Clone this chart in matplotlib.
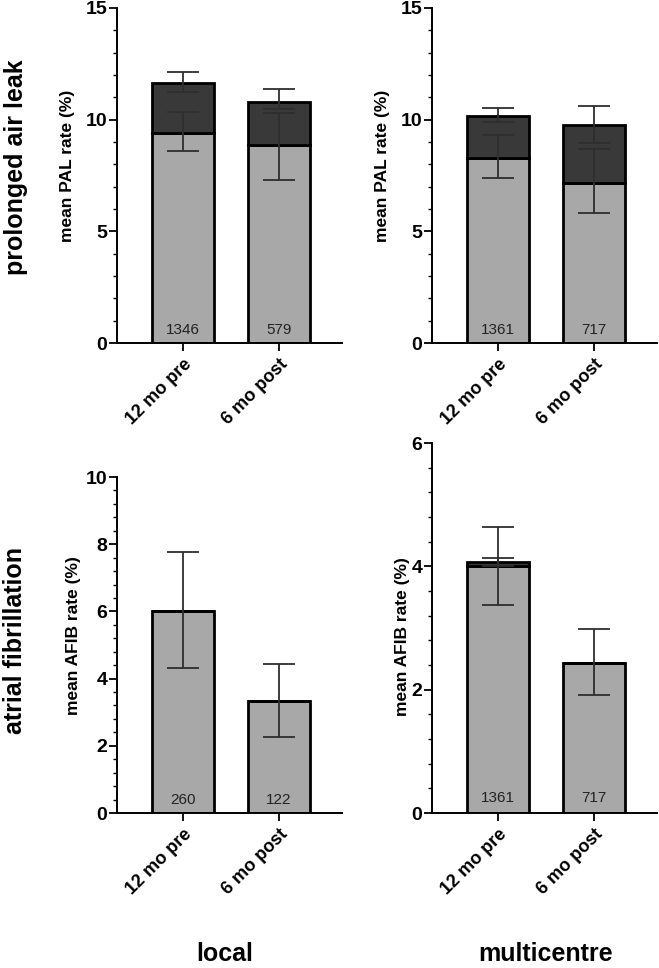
import matplotlib
matplotlib.use("Agg")
import matplotlib.pyplot as plt
from matplotlib.ticker import MultipleLocator, AutoMinorLocator
import matplotlib.transforms as mtransforms

plt.rcParams['font.family'] = ['Liberation Sans', 'DejaVu Sans']

categories = ["12 mo pre", "6 mo post"]

# PAL local
pal_local_lower = [9.40, 8.85]
pal_local_total = [11.64, 10.77]
pal_local_lower_err_lo = [8.58, 7.30]
pal_local_lower_err_hi = [10.33, 10.30]
pal_local_upper_err_lo = [11.22, 10.50]
pal_local_upper_err_hi = [12.12, 11.36]
pal_local_n = [1346, 579]

# PAL multicentre
pal_multi_lower = [8.28, 7.16]
pal_multi_total = [10.18, 9.74]
pal_multi_lower_err_lo = [7.37, 5.82]
pal_multi_lower_err_hi = [9.30, 8.67]
pal_multi_upper_err_lo = [9.88, 8.94]
pal_multi_upper_err_hi = [10.52, 10.63]
pal_multi_n = [1361, 717]

# AFIB local
afib_local_lower = [6.01, 3.32]
afib_local_total = [6.01, 3.32]
afib_local_lower_err_lo = [4.32, 2.26]
afib_local_lower_err_hi = [7.77, 4.42]
afib_local_n = [260, 122]

# AFIB multicentre
afib_multi_lower = [4.01, 2.44]
afib_multi_total = [4.07, 2.44]
afib_multi_lower_err_lo = [3.38, 1.92]
afib_multi_lower_err_hi = [4.64, 2.98]
afib_multi_upper_err_lo = [4.00, None]
afib_multi_upper_err_hi = [4.14, None]
afib_multi_n = [1361, 717]

row_labels = ["prolonged air leak", "atrial fibrillation"]
col_labels = ["local", "multicentre"]

LIGHT = "#a8a8a8"
DARK = "#393939"

fig = plt.figure(figsize=(6.59, 9.68), dpi=100)
W, H = 659, 968

def add_ax(left_px, top_px, right_px, bottom_px):
    return fig.add_axes([left_px / W, 1 - bottom_px / H,
                         (right_px - left_px) / W, (bottom_px - top_px) / H])

ax_tl = add_ax(117, 8, 342, 343)
ax_tr = add_ax(432, 8, 657, 343)
ax_bl = add_ax(117, 477, 342, 813)
ax_br = add_ax(432, 443, 657, 813)

x = [0, 1]
bw = 0.646

def draw_err(ax, xs, lo, hi):
    for xi, l, h in zip(xs, lo, hi):
        if l is None:
            continue
        mid = (l + h) / 2
        ax.errorbar([xi], [mid], yerr=[[mid - l], [h - mid]], fmt='none',
                    ecolor='#2e2e2e', elinewidth=1.3, capsize=11.5,
                    capthick=1.3, zorder=5)

def panel(ax, lower, total, n, ylim, major, ylabel, lab_xy,
          lerr_lo, lerr_hi, uerr_lo=None, uerr_hi=None):
    upper = [t - l for t, l in zip(total, lower)]
    ax.bar(x, lower, width=bw, color=LIGHT, edgecolor='black',
           linewidth=2.0, zorder=2)
    ax.bar(x, upper, bottom=lower, width=bw, color=DARK, edgecolor='black',
           linewidth=2.0, zorder=2)
    draw_err(ax, x, lerr_lo, lerr_hi)
    if uerr_lo is not None:
        draw_err(ax, x, uerr_lo, uerr_hi)
    trans = mtransforms.blended_transform_factory(ax.transData, ax.transAxes)
    for xi, ni in zip(x, n):
        ax.text(xi, 0.04, str(ni), transform=trans, ha='center', va='center',
                fontsize=11, color='#222222', zorder=6)
    ax.set_xlim(-0.6875, 1.656)
    ax.set_ylim(*ylim)
    ax.yaxis.set_major_locator(MultipleLocator(major))
    ax.yaxis.set_minor_locator(AutoMinorLocator(5))
    ax.set_xticks(x)
    ax.set_xticklabels(categories, rotation=45, ha='right',
                       rotation_mode='anchor', fontsize=13, fontweight='bold')
    for lab in ax.get_yticklabels():
        lab.set_fontweight('bold')
        lab.set_fontsize(14)
    ax.tick_params(axis='y', which='major', length=6, width=1.3, pad=1)
    ax.tick_params(axis='y', which='minor', length=3, width=1.0)
    ax.tick_params(axis='x', which='major', length=6, width=1.3, pad=3)
    for s in ['top', 'right']:
        ax.spines[s].set_visible(False)
    for s in ['left', 'bottom']:
        ax.spines[s].set_linewidth(1.4)
    ax.set_ylabel(ylabel, fontsize=12.5, fontweight='bold')
    ax.yaxis.set_label_coords(*lab_xy)

panel(ax_tl, pal_local_lower, pal_local_total, pal_local_n, (0, 15), 5,
      "mean PAL rate (%)", (-0.187, 0.528),
      pal_local_lower_err_lo, pal_local_lower_err_hi,
      pal_local_upper_err_lo, pal_local_upper_err_hi)
panel(ax_tr, pal_multi_lower, pal_multi_total, pal_multi_n, (0, 15), 5,
      "mean PAL rate (%)", (-0.187, 0.528),
      pal_multi_lower_err_lo, pal_multi_lower_err_hi,
      pal_multi_upper_err_lo, pal_multi_upper_err_hi)
panel(ax_bl, afib_local_lower, afib_local_total, afib_local_n, (0, 10), 2,
      "mean AFIB rate (%)", (-0.16, 0.527),
      afib_local_lower_err_lo, afib_local_lower_err_hi)
panel(ax_br, afib_multi_lower, afib_multi_total, afib_multi_n, (0, 6), 2,
      "mean AFIB rate (%)", (-0.10, 0.478),
      afib_multi_lower_err_lo, afib_multi_lower_err_hi,
      afib_multi_upper_err_lo, afib_multi_upper_err_hi)

fig.text(16 / W, 1 - 167 / H, row_labels[0], rotation=90, ha='center',
         va='center', fontsize=18, fontweight='bold')
fig.text(15 / W, 1 - 640 / H, row_labels[1], rotation=90, ha='center',
         va='center', fontsize=18, fontweight='bold')
fig.text(225 / W, 1 - 961 / H, col_labels[0], ha='center', va='baseline',
         fontsize=18, fontweight='bold')
fig.text(546 / W, 1 - 961 / H, col_labels[1], ha='center', va='baseline',
         fontsize=18, fontweight='bold')

fig.savefig("out.png", dpi=100)
